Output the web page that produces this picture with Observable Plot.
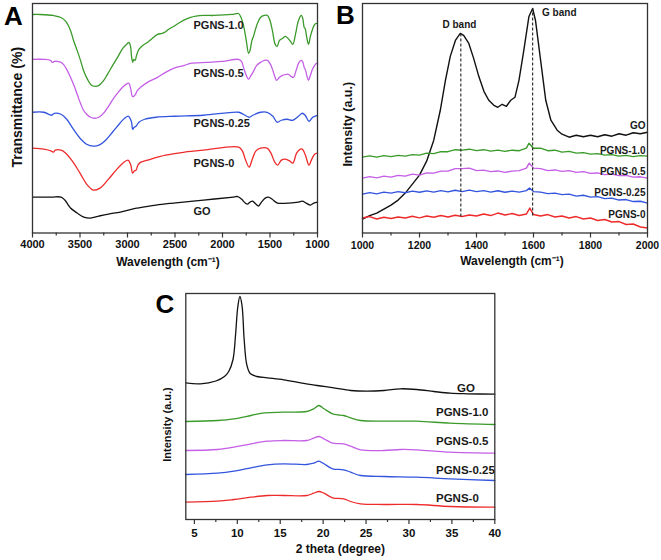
<!DOCTYPE html>
<html><head><meta charset="utf-8">
<script src="https://cdn.jsdelivr.net/npm/d3@7"></script>
<script src="https://cdn.jsdelivr.net/npm/@observablehq/plot@0.6"></script>
<style>
html,body{margin:0;padding:0;background:#fff}
#fig{position:relative;width:661px;height:560px;background:#fff;overflow:hidden}
</style></head><body><div id="fig"></div>
<script>
// ---------- series names & colours ----------
const names = ["GO", "PGNS-0", "PGNS-0.25", "PGNS-0.5", "PGNS-1.0"];
const colors = ["#111111", "#ee2b2b", "#3355dd", "#c45fe6", "#3a9a2a"];

// ---------- Panel A: FTIR (wavenumber, transmittance a.u.) ----------
const ftirTicks = [4000, 3500, 3000, 2500, 2000, 1500, 1000];
const ftirMinor = [3750, 3250, 2750, 2250, 1750, 1250];
const ftirGO = [[4000,36],[3800,36],[3700,36],[3660,33],[3630,29],[3600,25],[3530,20],[3460,16],[3390,15],[3300,17],[3200,19],[3074,21],[2950,24],[2895,25],[2700,28],[2516,30],[2200,33],[1884,36],[1840,36.5],[1800,34],[1760,30],[1737,29],[1710,31],[1684,32],[1650,29],[1621,27],[1590,31],[1550,35],[1516,36],[1480,34],[1440,31],[1421,30],[1300,30],[1200,31],[1160,32],[1120,30],[1074,28],[1040,30],[1000,31]];
const ftirPGNS0 = [[4000,85],[3880,84],[3800,82],[3780,81],[3760,83],[3700,83],[3650,80],[3580,72],[3500,60],[3430,49],[3360,43],[3290,45],[3200,54],[3120,63],[3050,70],[2995,73],[2965,68],[2947,60],[2930,62],[2910,63],[2890,68],[2860,71],[2790,73],[2600,78],[2400,81],[2200,83],[1830,86],[1790,82],[1760,74],[1720,66],[1690,73],[1650,82],[1600,85],[1530,85],[1490,80],[1450,71],[1420,68],[1380,73],[1340,74],[1290,72],[1260,70],[1220,80],[1180,84],[1160,84],[1140,81],[1120,76],[1090,68],[1060,74],[1030,79],[1000,80]];
const ftirPGNS025 = [[4000,121],[3880,121],[3800,118],[3770,120],[3700,119],[3640,114],[3570,104],[3500,95],[3430,89],[3360,87],[3300,88],[3230,93],[3150,102],[3080,110],[3030,115],[2990,117],[2960,112],[2945,104],[2930,106],[2910,107],[2880,111],[2820,114],[2700,116],[2500,117],[2200,118],[1830,121],[1780,119],[1720,116],[1680,118],[1600,121],[1530,121],[1470,117],[1424,111],[1380,113],[1320,114],[1260,113],[1200,117],[1160,120],[1130,118],[1090,112],[1050,116],[1000,118]];
const ftirPGNS05 = [[4000,174],[3880,174],[3811,173],[3790,171],[3770,172],[3740,172],[3700,171],[3674,169],[3640,164],[3600,156],[3560,147],[3526,138],[3495,130],[3463,123],[3430,119],[3389,116],[3350,115],[3300,116],[3253,120],[3200,127],[3147,135],[3090,142],[3042,147],[3000,150],[2985,150],[2965,144],[2950,137],[2935,137],[2916,139],[2895,143],[2863,146],[2790,151],[2684,156],[2600,161],[2516,165],[2400,168],[2337,170],[2158,171],[2000,172],[1832,174],[1800,172],[1779,166],[1750,158],[1726,154],[1700,158],[1674,162],[1640,168],[1600,171],[1560,173],[1526,173],[1495,169],[1474,164],[1450,157],[1432,153],[1400,156],[1368,158],[1330,159],[1305,159],[1280,157],[1253,156],[1225,163],[1200,170],[1175,173],[1158,172],[1140,166],[1126,163],[1110,157],[1095,153],[1075,158],[1053,164],[1030,168],[1011,170],[1000,170]];
const ftirPGNS10 = [[4000,219],[3920,219],[3780,218],[3700,216],[3650,212],[3600,203],[3568,193],[3530,183],[3495,173],[3460,162],[3421,154],[3380,148],[3340,147],[3300,148],[3250,153],[3211,159],[3150,169],[3105,176],[3050,185],[3000,190],[2985,191],[2970,188],[2955,175],[2945,171],[2935,174],[2920,173],[2905,178],[2880,184],[2840,188],[2790,191],[2740,195],[2684,199],[2640,200],[2611,201],[2570,204],[2516,207],[2450,211],[2337,216],[2200,218],[2095,218],[1900,219],[1832,220],[1810,217],[1779,208],[1750,193],[1725,180],[1710,183],[1690,193],[1674,197],[1640,208],[1600,216],[1560,218],[1526,218],[1500,213],[1475,203],[1445,189],[1425,187],[1400,193],[1370,195],[1337,197],[1310,195],[1284,192],[1260,189],[1230,200],[1200,213],[1170,218],[1155,215],[1140,206],[1130,205],[1115,197],[1095,189],[1075,197],[1053,204],[1030,209],[1010,210],[1000,210]];
const ftirLabelX = [2305, 2305, 2305, 2305, 2305];
const ftirLabelY = [22, 70, 110, 160, 208];

// ---------- Panel B: Raman (wavenumber, intensity a.u.) ----------
const ramanTicks = [1000, 1200, 1400, 1600, 1800, 2000];
const ramanMinor = [1100, 1300, 1500, 1700, 1900];
const ramanGO = [[1000,14],[1025,17.5],[1050,20],[1075,24],[1100,28],[1125,33],[1150,40],[1175,49],[1200,58],[1225,72],[1250,93],[1273,123],[1291,153],[1308,177],[1326,193],[1343,200],[1355,198],[1373,190],[1390,175],[1408,157],[1426,142],[1443,133],[1461,128],[1475,126],[1490,129],[1505,127],[1520,133],[1535,136],[1549,153],[1566,183],[1584,217],[1597,225],[1607,213],[1625,173],[1643,133],[1661,113],[1683,103],[1700,99],[1725,96],[1750,98],[1775,96.5],[1800,98],[1825,96.5],[1850,98.5],[1875,97],[1900,99.5],[1925,98],[1950,100.5],[1975,99.5],[2000,101]];
const ramanPGNS0 = [[1000,15],[1025,16.5],[1050,14],[1075,15.8],[1100,14.5],[1125,16],[1150,15],[1175,16.8],[1200,15.2],[1225,17],[1250,15.8],[1275,17.5],[1300,16],[1325,17.8],[1350,16.5],[1375,18],[1400,17],[1425,19],[1450,17.5],[1475,20],[1500,18],[1525,19.5],[1550,17.5],[1575,19],[1587,25],[1600,18.5],[1625,17],[1650,18.5],[1675,16],[1700,17],[1725,15],[1750,16.5],[1775,14],[1800,15],[1825,12.5],[1850,13.5],[1875,11],[1900,11.5],[1925,8.5],[1950,9],[1975,6],[2000,5]];
const ramanPGNS025 = [[1000,39],[1025,40.5],[1050,39.2],[1075,41],[1100,40],[1125,41.5],[1150,40.3],[1175,42],[1200,40.8],[1225,42.2],[1250,41],[1275,42.5],[1300,41.2],[1325,42.8],[1350,41.5],[1375,43],[1400,41.5],[1425,42.5],[1450,41],[1475,42.3],[1500,40.8],[1525,42],[1550,41],[1575,42.5],[1586,45],[1600,41.5],[1625,41],[1650,39.5],[1675,40],[1700,38.5],[1725,39],[1750,37],[1775,37.8],[1800,36],[1825,36.5],[1850,34.5],[1875,35],[1900,33],[1925,33.5],[1950,31.5],[1975,31.8],[2000,30]];
const ramanPGNS05 = [[1000,55],[1025,56.5],[1050,55.3],[1075,57],[1100,56],[1125,57.8],[1150,57],[1175,59],[1200,58],[1225,60.2],[1250,60],[1275,62],[1300,62],[1325,64.5],[1350,64.5],[1375,65],[1400,62.5],[1425,63],[1450,61.5],[1475,62.2],[1500,60.8],[1525,62],[1550,62.5],[1575,65],[1585,70],[1600,65],[1625,64.5],[1650,62.5],[1675,63.2],[1700,61.8],[1725,62.5],[1750,60.8],[1775,61.5],[1800,59.8],[1825,60.2],[1850,58.5],[1875,59],[1900,57.5],[1925,57.8],[1950,56],[1975,56.3],[2000,55]];
const ramanPGNS10 = [[1000,76],[1025,77.3],[1050,76],[1075,77.5],[1100,76.5],[1125,77.8],[1150,77],[1175,78.5],[1200,78],[1225,80],[1250,79.5],[1275,81.5],[1300,81.5],[1325,83.5],[1350,83],[1375,84],[1400,82.5],[1425,83.5],[1450,82],[1475,83],[1500,81.8],[1525,83],[1550,82.5],[1575,85],[1584,90],[1600,85],[1625,85],[1650,82.5],[1675,83],[1700,81],[1725,81.8],[1750,80],[1775,80.5],[1800,79],[1825,79.5],[1850,78],[1875,78.5],[1900,77],[1925,77.8],[1950,76.5],[1975,77.5],[2000,77]];
const ramanLabelX = [1993, 1993, 1993, 1993, 1993];
const ramanLabelY = [107, 18, 40, 61, 82];
const bandNames = ["D band", "G band"];
const bandX = [1345, 1597];
const bandLow = [16, 17];
const bandHigh = [200, 225];
const bandLabelX = [1340, 1630];
const bandLabelY = [209, 221];

// ---------- Panel C: XRD (2 theta, intensity a.u.) ----------
const xrdTicks = [5, 10, 15, 20, 25, 30, 35, 40];
const xrdMinor = [7.5, 12.5, 17.5, 22.5, 27.5, 32.5, 37.5];
const xrdGO = [[4,136.7],[5.7,135.7],[7.5,138.5],[8.5,143],[9.0,148],[9.5,160],[9.8,185],[10.05,212],[10.3,223],[10.55,214],[10.8,180],[11.1,155],[11.5,146],[12.3,143],[13.5,141.7],[15.4,139.7],[17.4,136.7],[19.3,134],[21.25,131.7],[23.2,129],[25.1,128.3],[27.1,129],[29,130.7],[30.9,130],[32.9,128],[34.8,126.3],[36.75,125.7],[40,125.3]];
const xrdPGNS0 = [[4,17.3],[7.7,18.3],[9.6,20],[11.6,22.3],[13.5,24],[15.4,24],[18.1,24],[18.9,26.3],[19.5,28],[20.1,26.3],[21.1,21.7],[22.4,20.7],[23.2,18],[24.35,15.7],[27.1,15],[30.9,15],[34.8,13],[40,12.3]];
const xrdPGNS025 = [[4,45],[7.7,46.3],[9.6,48.3],[11.6,51.7],[13.5,54.7],[15.4,55.7],[18.1,55],[18.9,56.3],[19.5,58.3],[20.1,55.7],[21.1,50.7],[22.4,49.7],[23.2,47.3],[24.35,44],[27.1,43],[30.9,42.3],[34.8,40.7],[40,39]];
const xrdPGNS05 = [[4,69],[7.7,70],[9.6,72.3],[11.6,75.7],[13.5,78.3],[15.4,79],[18.1,79],[18.9,81.3],[19.5,83],[20.1,80.7],[21.1,76.3],[22.4,75.7],[23.2,73.3],[24.35,69.7],[27.1,69],[29,70],[30.9,69.7],[34.8,67.3],[40,66.3]];
const xrdPGNS10 = [[4,98],[7.7,99],[9.6,100.7],[11.6,104],[13.2,106.7],[15.4,107.3],[18.1,108],[18.9,110.7],[19.5,114],[20.1,110.7],[21.1,105.7],[21.7,104.7],[22.4,104],[23.2,101.7],[24.35,99],[27.1,98.3],[30.9,98.3],[34.8,96.3],[40,95]];
const xrdLabelX = [35.6, 33.15, 33.15, 33.15, 33.15];
const xrdLabelY = [130.7, 20.7, 49, 78.3, 107.3];

// ---------- helpers ----------
const FONT = "'Liberation Sans', Arial, Helvetica, sans-serif";
function rows(seriesList) {
  return seriesList.flatMap((pairs, i) => pairs.map(([x, y]) => ({name: names[i], x, y})));
}
function labelRows(xs, ys) {
  return names.map((n, i) => ({name: n, x: xs[i], y: ys[i]}));
}
const fig = document.getElementById("fig");

function panel(o) {
  const marks = [
    ...(o.before || []),
    Plot.line(o.data, {x: "x", y: "y", z: "name", stroke: "name", strokeWidth: o.sw || 1.3, curve: o.curve || "catmull-rom"}),
    ...(o.extra || []),
    Plot.text(o.labels, {x: "x", y: "y", text: "name", textAnchor: o.labelAnchor, fontSize: o.labelSize, fontWeight: "bold", fill: "#1a1a1a"}),
    Plot.frame({stroke: "#333", strokeWidth: 1.3}),
    Plot.axisX({ticks: o.majors, tickSize: 5, tickPadding: o.tickPad, fontSize: o.tickSize, fontWeight: "bold", fill: "#111", stroke: "#333", strokeWidth: 1.2, label: null, tickFormat: d => String(d)}),
    Plot.axisX({ticks: o.minors, tickSize: 3, tickFormat: () => "", stroke: "#333", strokeWidth: 1.2, label: null}),
    Plot.text([o.xTitle], {text: d => d, frameAnchor: "bottom", dy: o.xTitleDy, dx: o.xTitleDx, fontSize: 12, fontWeight: "bold", fill: "#111"}),
    Plot.text([o.yTitle], {text: d => d, frameAnchor: "left", textAnchor: "middle", lineAnchor: "middle", rotate: -90, dx: o.yTitleDx, dy: o.yTitleDy, fontSize: o.yTitleSize, fontWeight: "bold", fill: "#111"}),
    Plot.text([o.letter], {text: d => d, frameAnchor: "top-left", textAnchor: "middle", lineAnchor: "middle", dx: o.letterDx, dy: o.letterDy, fontSize: 26, fontWeight: "bold", fill: "#000"})
  ];
  const svg = Plot.plot({
    width: o.width, height: o.height,
    marginLeft: o.ml, marginRight: o.mr, marginTop: o.mt, marginBottom: o.mb,
    x: {domain: o.xDomain, axis: null},
    y: {domain: o.yDomain, axis: null},
    color: {domain: names, range: colors},
    style: {position: "absolute", left: o.left + "px", top: o.top + "px", fontFamily: FONT, background: "transparent", overflow: "visible"},
    marks
  });
  fig.appendChild(svg);
}

// Panel A
panel({
  left: 0, top: 0, width: 330, height: 280, ml: 32, mr: 13, mt: 3, mb: 47.5,
  xDomain: [4000, 1000], yDomain: [0, 230],
  majors: ftirTicks, minors: ftirMinor, tickPad: 2, tickSize: 11,
  data: rows([ftirGO, ftirPGNS0, ftirPGNS025, ftirPGNS05, ftirPGNS10]),
  labels: labelRows(ftirLabelX, ftirLabelY), labelAnchor: "start", labelSize: 11,
  xTitle: "Wavelength (cm\u207B\u00B9)", xTitleDy: 33, xTitleDx: -7,
  yTitle: "Transmittance (%)", yTitleDx: -15, yTitleDy: -11, yTitleSize: 14,
  letter: "A", letterDx: -19, letterDy: 13
});

// Panel B
const bandRows = bandNames.map((n, i) => ({name: n, x: bandX[i], lo: bandLow[i], hi: bandHigh[i], lx: bandLabelX[i], ly: bandLabelY[i]}));
panel({
  left: 330, top: 0, width: 331, height: 280, ml: 32, mr: 14, mt: 3, mb: 47.5,
  xDomain: [1000, 2000], yDomain: [0, 230],
  majors: ramanTicks, minors: ramanMinor, tickPad: 4, tickSize: 10.5, sw: 1.4, curve: "linear",
  data: rows([ramanGO, ramanPGNS0, ramanPGNS025, ramanPGNS05, ramanPGNS10]),
  labels: labelRows(ramanLabelX, ramanLabelY), labelAnchor: "end", labelSize: 10,
  extra: [
    Plot.ruleX(bandRows, {x: "x", y1: "lo", y2: "hi", stroke: "#222", strokeWidth: 1.1, strokeDasharray: "3,2"}),
    Plot.text(bandRows, {x: "lx", y: "ly", text: "name", textAnchor: "middle", fontSize: 10, fontWeight: "bold", fill: "#1a1a1a", filter: (d, i) => i === 0}),
    Plot.text(bandRows, {x: "lx", y: "ly", text: "name", textAnchor: "start", fontSize: 10, fontWeight: "bold", fill: "#1a1a1a", filter: (d, i) => i === 1})
  ],
  xTitle: "Wavelength (cm\u207B\u00B9)", xTitleDy: 32, xTitleDx: 7,
  yTitle: "Intensity (a.u.)", yTitleDx: -15, yTitleDy: 6, yTitleSize: 12.5,
  letter: "B", letterDx: -17, letterDy: 12
});

// Panel C
panel({
  left: 140, top: 280, width: 370, height: 280, ml: 45.3, mr: 15.7, mt: 13, mb: 41,
  xDomain: [4, 40], yDomain: [0, 226],
  majors: xrdTicks, minors: xrdMinor, tickPad: 4, tickSize: 11.5,
  data: rows([xrdGO, xrdPGNS0, xrdPGNS025, xrdPGNS05, xrdPGNS10]),
  labels: labelRows(xrdLabelX, xrdLabelY), labelAnchor: "start", labelSize: 11.5,
  xTitle: "2 theta (degree)", xTitleDy: 33, xTitleDx: 0,
  yTitle: "Intensity (a.u.)", yTitleDx: -18, yTitleDy: 18, yTitleSize: 11,
  letter: "C", letterDx: -21, letterDy: 11
});
</script></body></html>
